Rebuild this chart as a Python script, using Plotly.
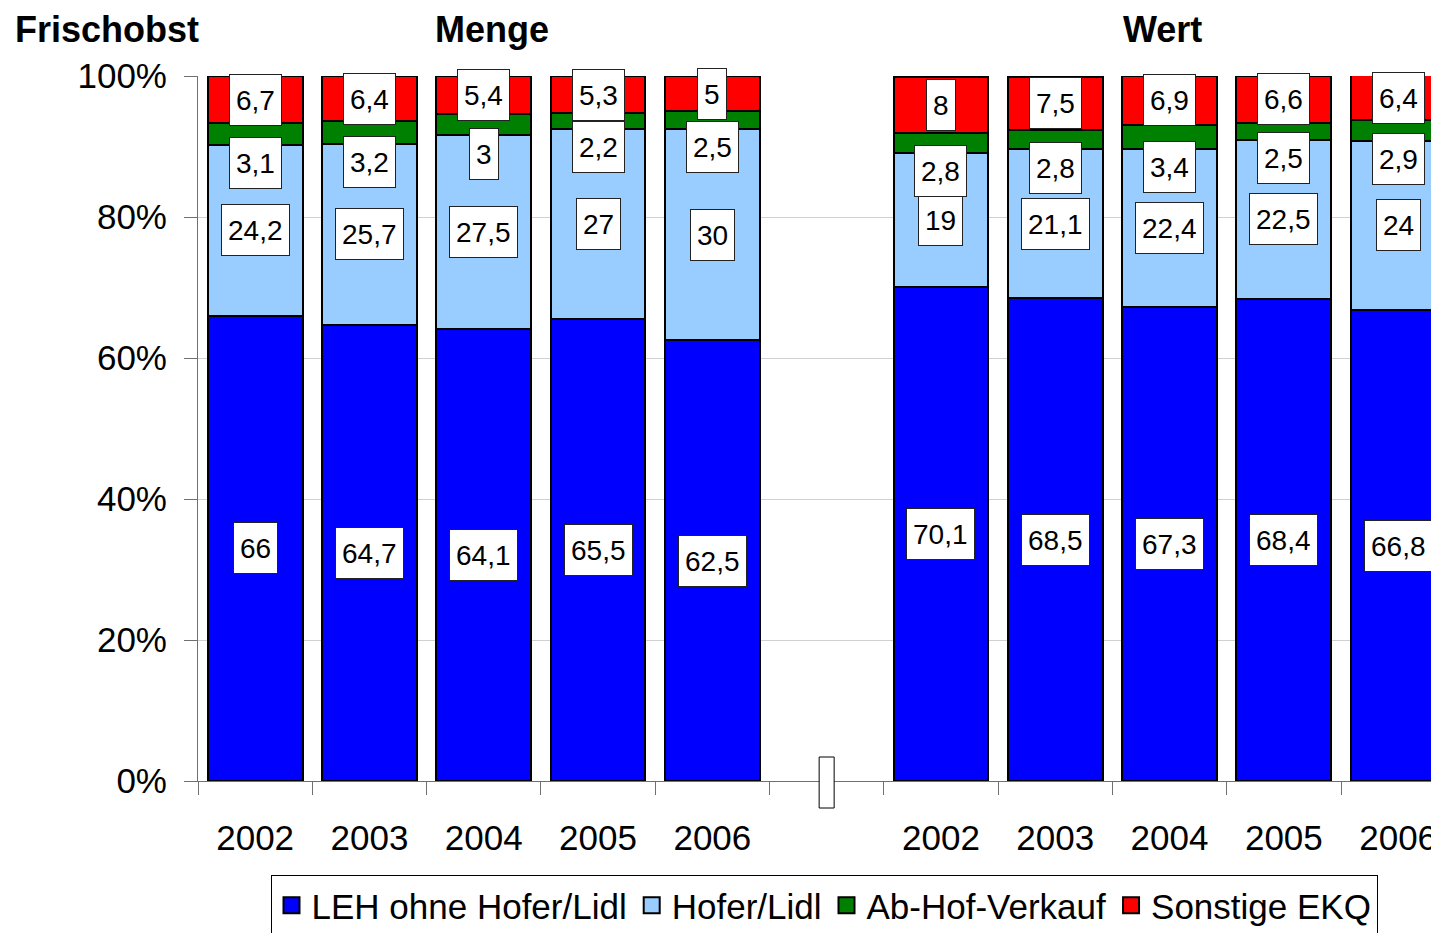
import plotly.graph_objects as go

# ---- data ----
years = ["2002", "2003", "2004", "2005", "2006"]
groups = ["Menge", "Wert"]
slot_pos = [0, 1, 2, 3, 4, 6, 7, 8, 9, 10]   # slot 5 is the gap between the groups
series_names = ["LEH ohne Hofer/Lidl", "Hofer/Lidl", "Ab-Hof-Verkauf", "Sonstige EKQ"]
leh = [66, 64.7, 64.1, 65.5, 62.5, 70.1, 68.5, 67.3, 68.4, 66.8]
hofer = [24.2, 25.7, 27.5, 27, 30, 19, 21.1, 22.4, 22.5, 24]
abhof = [3.1, 3.2, 3, 2.2, 2.5, 2.8, 2.8, 3.4, 2.5, 2.9]
sonst = [6.7, 6.4, 5.4, 5.3, 5, 8, 7.5, 6.9, 6.6, 6.4]
colors = ["#0000FF", "#99CCFF", "#008000", "#FF0000"]
y_ticks = [0, 20, 40, 60, 80, 100]
y_ticktext = ["0%", "20%", "40%", "60%", "80%", "100%"]

FONT = "Liberation Sans, Arial, sans-serif"
OFF = 8  # default body margin of the html page
W, H = 1439 - OFF, 933 - OFF
# target plot area in window pixels: x 198..1439, y 76..781
ML = 198 - OFF
MT = 76 - OFF
MR = 0
MB = (933 - 781)
PW = W - ML - MR
PH = H - MT - MB
slot_px = 114.3
x_max = -0.5 + PW / slot_px


def fmt(v):
    return f"{v:g}".replace(".", ",")


def px_to_paper_x(px):
    return (px - OFF - ML) / PW


def px_to_paper_y(py):
    return (H - MB - (py - OFF)) / PH


fig = go.Figure()
for name, vals, col in zip(series_names, [leh, hofer, abhof, sonst], colors):
    fig.add_trace(go.Bar(
        x=slot_pos, y=vals, name=name, width=0.83, showlegend=False,
        marker=dict(color=col, line=dict(color="black", width=2.5)),
        hoverinfo="skip",
    ))
# legend entries with bigger square symbols
for name, col in zip(series_names, colors):
    fig.add_trace(go.Scatter(
        x=[None], y=[None], mode="markers", name=name,
        marker=dict(symbol="square", size=20, color=col, line=dict(color="black", width=2)),
        hoverinfo="skip",
    ))

# value labels
annotations = []
for i, xp in enumerate(slot_pos):
    b, h, g, r = leh[i], hofer[i], abhof[i], sonst[i]
    top = b + h + g + r
    ys = [b / 2, b + h / 2, b + h - 2.6, top - r / 2]
    for v, yy in zip([b, h, g, r], ys):
        annotations.append(dict(
            x=xp, y=yy, xref="x", yref="y", text=fmt(v), showarrow=False,
            font=dict(family=FONT, size=28, color="black"),
            bgcolor="white", bordercolor="#222222", borderwidth=1, borderpad=6,
            height=38,
        ))

# titles (top of text box at top of the figure)
title_y = px_to_paper_y(OFF)
annotations.append(dict(text="<b>Frischobst</b>", x=px_to_paper_x(14), y=title_y,
                        xref="paper", yref="paper", xanchor="left", yanchor="top",
                        showarrow=False, borderpad=0,
                        font=dict(family=FONT, size=36, color="black")))
for gname, cx in zip(groups, [492, 1162]):
    annotations.append(dict(text=f"<b>{gname}</b>", x=px_to_paper_x(cx), y=title_y,
                            xref="paper", yref="paper", xanchor="center", yanchor="top",
                            showarrow=False, borderpad=0,
                            font=dict(family=FONT, size=36, color="black")))

# axis-break marker in the gap slot
shapes = [dict(type="rect", xref="x", yref="paper",
               x0=5 - 7.5 / slot_px, x1=5 + 7.5 / slot_px,
               y0=px_to_paper_y(808), y1=px_to_paper_y(757),
               fillcolor="white", line=dict(color="black", width=1), layer="above")]

fig.update_layout(
    width=W, height=H,
    margin=dict(l=ML, r=MR, t=MT, b=MB, autoexpand=False),
    paper_bgcolor="white", plot_bgcolor="white",
    barmode="stack", bargap=0,
    font=dict(family=FONT, size=35, color="black"),
    annotations=annotations, shapes=shapes,
    legend=dict(orientation="h", x=px_to_paper_x(824), xanchor="center",
                y=px_to_paper_y(875), yanchor="top",
                bordercolor="black", borderwidth=1, bgcolor="white",
                font=dict(family=FONT, size=35, color="black"),
                traceorder="normal", itemwidth=30, itemsizing="trace"),
    xaxis=dict(range=[-0.5, x_max], tickvals=slot_pos,
               ticktext=years + years, ticks="", showgrid=False, zeroline=False,
               showline=True, linecolor="#707070", linewidth=1,
               ticklabelstandoff=26, tickfont=dict(size=35)),
    xaxis2=dict(range=[-0.5, x_max], overlaying="x", anchor="y", side="bottom",
                tickvals=[k - 0.5 for k in range(12)], ticks="outside", ticklen=13,
                tickcolor="#707070", showticklabels=False, showgrid=False,
                zeroline=False, showline=False),
    yaxis=dict(range=[0, 100], tickvals=y_ticks, ticktext=y_ticktext, ticks="outside",
               ticklen=13, tickcolor="#707070", showline=True, linecolor="#707070",
               gridcolor="#d0d0d0", gridwidth=1, zeroline=False,
               ticklabelstandoff=10, tickfont=dict(size=35)),
)
fig.add_trace(go.Scatter(x=[None], y=[None], xaxis="x2", showlegend=False, hoverinfo="skip"))

fig.write_html("out.html")
